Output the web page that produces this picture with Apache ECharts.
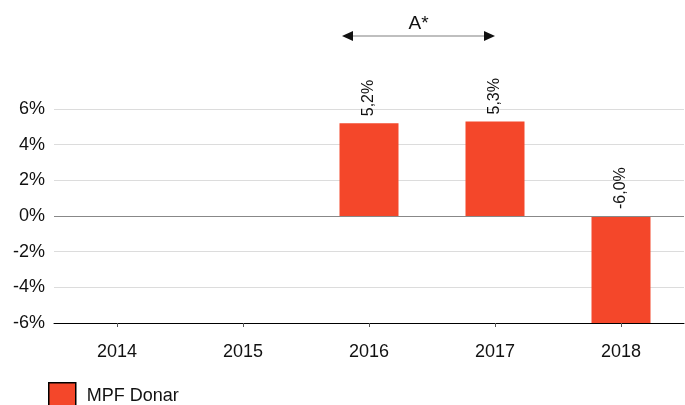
<!DOCTYPE html>
<html><head><meta charset="utf-8">
<script src="https://cdn.jsdelivr.net/npm/echarts@6/dist/echarts.min.js"></script>
<style>html,body{margin:0;padding:0;background:#fff}#c{width:685px;height:405px}</style>
</head><body><div id="c"></div>
<script>
var categories = ['2014','2015','2016','2017','2018'];
var values = [null, null, 5.2, 5.3, -6.0];
var yTicks = [-6, -4, -2, 0, 2, 4, 6];
var seriesName = 'MPF Donar';
var annotationText = 'A*';

var chart = echarts.init(document.getElementById('c'));
var font = 'Liberation Sans, Arial, sans-serif';
chart.setOption({
  animation: false,
  textStyle: {fontFamily: font},
  grid: {left: 54, right: 1, top: 109, bottom: 82, containLabel: false},
  legend: {
    data: [seriesName], left: 48, top: 382, itemWidth: 27, itemHeight: 27, padding: 0,
    icon: 'rect', itemGap: 10,
    itemStyle: {borderColor: '#000', borderWidth: 1.5},
    textStyle: {fontSize: 18, color: '#111', fontFamily: font, padding: [2, 0, 0, 6]}
  },
  xAxis: {
    type: 'category', data: categories,
    axisLine: {show: true, onZero: false, lineStyle: {color: '#000', width: 1}},
    axisTick: {show: true, alignWithLabel: true, length: 4, lineStyle: {color: '#555'}},
    axisLabel: {fontSize: 18, color: '#111', margin: 20, fontFamily: font}
  },
  yAxis: {
    type: 'value', min: yTicks[0], max: yTicks[yTicks.length-1], interval: 2,
    axisLine: {show: false}, axisTick: {show: false},
    axisLabel: {fontSize: 18, color: '#111', margin: 9, fontFamily: font,
      formatter: function(v){ return v + '%'; }},
    splitLine: {lineStyle: {color: '#dcdcdc', width: 1}}
  },
  series: [{
    name: seriesName, type: 'bar', data: values, barWidth: 59,
    itemStyle: {color: '#F4472A'},
    label: {
      show: true, position: 'top', rotate: 90, fontSize: 16, color: '#111', fontFamily: font,
      align: 'left', verticalAlign: 'middle', distance: 7,
      formatter: function(p){ return p.value.toFixed(1).replace('.', ',') + '%'; }
    },
    markLine: {
      silent: true, symbol: 'none', label: {show: false},
      lineStyle: {color: '#888', type: 'solid', width: 1},
      data: [{yAxis: 0}]
    }
  }]
});

function drawAnnotation(){
  var x1 = chart.convertToPixel({xAxisIndex: 0}, categories[2]) - 27;
  var x2 = chart.convertToPixel({xAxisIndex: 0}, categories[3]);
  var y = 36;
  chart.setOption({graphic: [
    {type: 'line', shape: {x1: x1 + 6, y1: y, x2: x2 - 6, y2: y}, style: {stroke: '#aaa', lineWidth: 1.5}, silent: true},
    {type: 'polygon', shape: {points: [[x1, y], [x1 + 11, y - 5], [x1 + 11, y + 5]]}, style: {fill: '#111'}},
    {type: 'polygon', shape: {points: [[x2, y], [x2 - 11, y - 5], [x2 - 11, y + 5]]}, style: {fill: '#111'}},
    {type: 'text', x: (x1 + x2) / 2, y: 24, style: {text: annotationText, fontSize: 19, fill: '#111', fontFamily: font, align: 'center', verticalAlign: 'middle'}}
  ]});
}
drawAnnotation();
</script></body></html>
